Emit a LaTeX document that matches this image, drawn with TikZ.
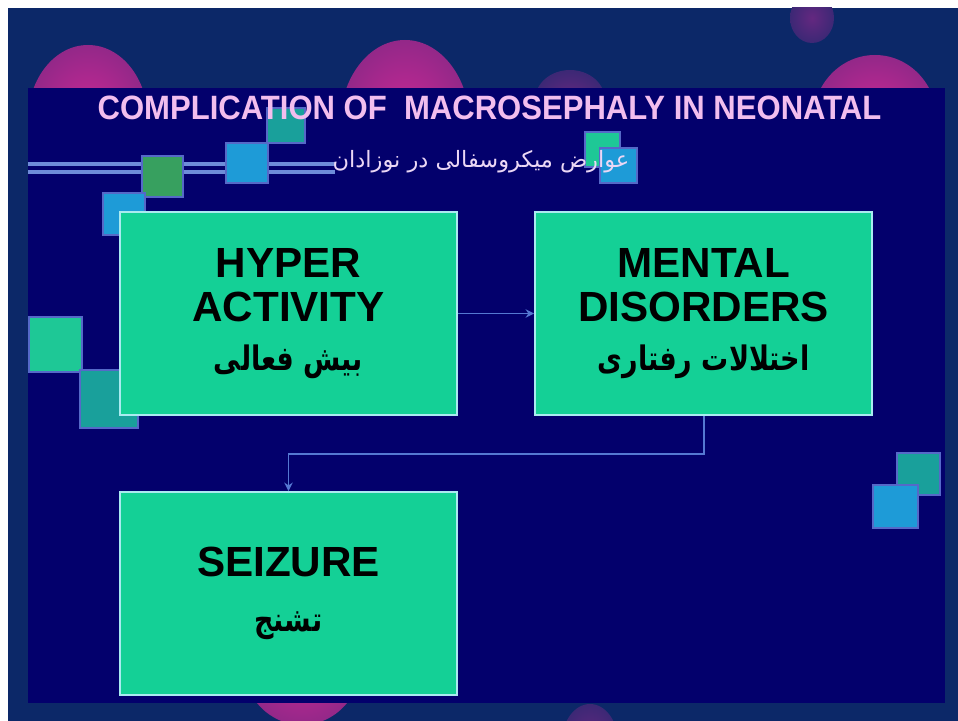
\documentclass[tikz,border=0pt]{standalone}
\usepackage{fontspec}
\setmainfont{Liberation Sans}
\newfontfamily\titlefont[FakeStretch=0.92]{Liberation Sans}
\newfontfamily\arabicfont[Script=Arabic]{DejaVu Sans}
\newfontfamily\farsibold[Script=Arabic,FakeStretch=0.8]{DejaVu Sans}
\TeXXeTstate=1
\usetikzlibrary{positioning,arrows.meta}
\definecolor{outerblue}{RGB}{12,40,104}
\definecolor{navy}{RGB}{3,0,108}
\definecolor{boxgreen}{RGB}{20,208,150}
\definecolor{boxrim}{RGB}{170,235,240}
\definecolor{linkblue}{RGB}{85,120,210}
\definecolor{titlepink}{RGB}{242,190,238}
\definecolor{sublilac}{RGB}{235,215,245}
\definecolor{blobpink}{RGB}{205,40,150}
\definecolor{blobdim}{RGB}{100,40,128}
\definecolor{tilerim}{RGB}{85,105,200}
\definecolor{tileteal}{RGB}{25,160,155}
\definecolor{tileblue}{RGB}{30,155,215}
\definecolor{tilegreen}{RGB}{55,160,95}
\definecolor{tilemint}{RGB}{30,200,150}
\begin{document}
\begin{tikzpicture}[x=0.025cm,y=-0.025cm,
        box/.style={draw=boxrim,line width=1.4pt,fill=boxgreen,minimum width=8.425cm,
            minimum height=5.075cm,inner sep=0pt,align=center,
            font=\fontsize{30}{31}\selectfont\bfseries},
        link/.style={draw=linkblue,line width=1.3pt,-{Stealth[length=6pt,width=6pt]}},
        tile/.style={draw=tilerim,line width=0.8pt},
        blob/.style={inner color=blobpink,outer color=blobpink!70!outerblue},
        dimblob/.style={inner color=blobdim,outer color=blobdim!55!outerblue}]
    \useasboundingbox (0,0) rectangle (958,721);
    \fill[white] (0,0) rectangle (958,721);
    \fill[outerblue] (8,8) rectangle (962,725);
    % blobs behind the slide
    \begin{scope}
        \clip (8,8) rectangle (962,725);
        \shade[blob] (88,120) ellipse [x radius=60,y radius=75];
        \shade[blob] (405,125) ellipse [x radius=65,y radius=85];
        \shade[dimblob] (570,100) ellipse [x radius=35,y radius=30];
        \shade[dimblob] (812,18) ellipse [x radius=22,y radius=25];
        \shade[blob] (875,120) ellipse [x radius=62,y radius=65];
        \shade[blob] (302,660) ellipse [x radius=60,y radius=65];
        \shade[dimblob] (590,742) ellipse [x radius=28,y radius=38];
    \end{scope}
    \fill[navy] (28,88) rectangle (945,703);
    % double rule and tiles
    \draw[linkblue!85!white,line width=2.2pt] (28,164) -- (335,164);
    \draw[linkblue!85!white,line width=2.2pt] (28,172) -- (335,172);
    \filldraw[tile,fill=tileteal] (267,108) rectangle (305,143);
    \filldraw[tile,fill=tileblue] (226,143) rectangle (268,183);
    \filldraw[tile,fill=tilegreen] (142,156) rectangle (183,197);
    \filldraw[tile,fill=tileblue] (103,193) rectangle (145,235);
    \filldraw[tile,fill=tilemint] (585,132) rectangle (620,167);
    \filldraw[tile,fill=tileblue] (600,148) rectangle (637,183);
    \filldraw[tile,fill=tilemint] (29,317) rectangle (82,372);
    \filldraw[tile,fill=tileteal] (80,370) rectangle (138,428);
    \filldraw[tile,fill=tileteal] (897,453) rectangle (940,495);
    \filldraw[tile,fill=tileblue] (873,485) rectangle (918,528);
    % titles
    \node[anchor=base,text=titlepink,font=\titlefont\bfseries\fontsize{24}{28}\selectfont] (title) at (489.5,120)
        {COMPLICATION OF\ \ MACROSEPHALY IN NEONATAL};
    \node[anchor=base,text=sublilac,font=\arabicfont\fontsize{16}{18}\selectfont] (subtitle) at (481,168)
        {\beginR عوارض میکروسفالی در نوزادان\endR};
    % boxes
    \node[box] (hyper) at (288.5,313.5)
        {HYPER\\ACTIVITY\\[4pt]{\farsibold\bfseries\fontsize{24}{26}\selectfont\beginR بیش فعالی\endR}};
    \node[box,right=1.9cm of hyper] (mental)
        {MENTAL\\DISORDERS\\[4pt]{\farsibold\bfseries\fontsize{24}{26}\selectfont\beginR اختلالات رفتاری\endR}};
    \node[box,below=1.875cm of hyper] (seizure)
        {SEIZURE\\[8pt]{\farsibold\bfseries\fontsize{24}{26}\selectfont\beginR تشنج\endR}};
    \draw[link] (hyper) -- (mental);
    \draw[link] (mental.south) -- ++(0,38) -| (seizure.north);
\end{tikzpicture}
\end{document}
